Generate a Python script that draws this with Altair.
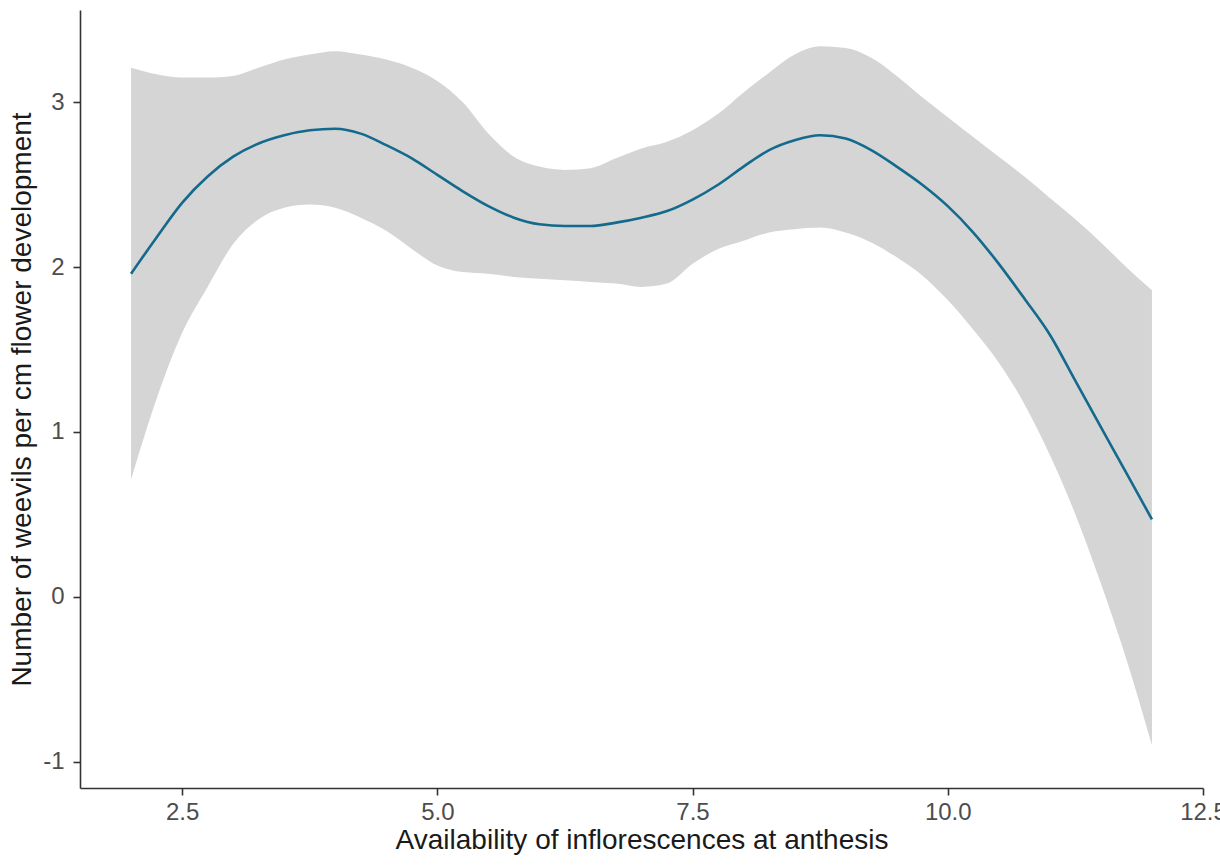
import altair as alt
import pandas as pd

# Smoothed estimate of weevil density with its confidence band
x_vals = [2.0, 2.25, 2.5, 2.75, 3.0, 3.25, 3.5, 3.75, 4.0, 4.25, 4.5, 4.75,
          5.0, 5.25, 5.5, 5.75, 6.0, 6.25, 6.5, 6.75, 7.0, 7.25, 7.5, 7.75,
          8.0, 8.25, 8.5, 8.75, 9.0, 9.25, 9.5, 9.75, 10.0, 10.25, 10.5, 10.75,
          11.0, 11.25, 11.5, 11.75, 12.0]
fit = [1.96, 2.18, 2.39, 2.55, 2.67, 2.75, 2.80, 2.83, 2.84, 2.81, 2.74, 2.66,
       2.56, 2.46, 2.37, 2.30, 2.26, 2.25, 2.25, 2.27, 2.30, 2.34, 2.41, 2.50,
       2.61, 2.71, 2.77, 2.80, 2.78, 2.71, 2.61, 2.50, 2.37, 2.21, 2.02, 1.81,
       1.59, 1.31, 1.03, 0.75, 0.47]
upper = [3.21, 3.17, 3.15, 3.15, 3.16, 3.21, 3.26, 3.29, 3.31, 3.29, 3.26, 3.21,
         3.13, 3.00, 2.81, 2.67, 2.61, 2.59, 2.60, 2.66, 2.72, 2.76, 2.83, 2.93,
         3.06, 3.18, 3.29, 3.34, 3.33, 3.27, 3.16, 3.03, 2.91, 2.79, 2.67, 2.55,
         2.42, 2.29, 2.15, 2.00, 1.86]
lower = [0.71, 1.20, 1.60, 1.88, 2.14, 2.29, 2.36, 2.38, 2.36, 2.30, 2.22, 2.11,
         2.01, 1.97, 1.96, 1.94, 1.93, 1.92, 1.91, 1.90, 1.88, 1.90, 2.02, 2.11,
         2.16, 2.21, 2.23, 2.24, 2.21, 2.15, 2.06, 1.95, 1.80, 1.62, 1.42, 1.17,
         0.86, 0.50, 0.08, -0.38, -0.90]

x_ticks = [2.5, 5.0, 7.5, 10.0, 12.5]
y_ticks = [-1, 0, 1, 2, 3]

df = pd.DataFrame({"x": x_vals, "fit": fit, "lo": lower, "hi": upper})

FONT = "Liberation Sans"

x_enc = alt.X(
    "x:Q",
    scale=alt.Scale(domain=[1.5, 12.5], nice=False, zero=False),
    axis=alt.Axis(
        title="Availability of inflorescences at anthesis",
        values=x_ticks,
        format=".1f",
        labelFlush=False,
        labelOverlap=False,
    ),
)
y_scale = alt.Scale(domain=[-1.16, 3.56], nice=False, zero=False)

band = alt.Chart(df).mark_area(
    color="#d5d5d5", opacity=1, interpolate="monotone"
).encode(
    x=x_enc,
    y=alt.Y(
        "lo:Q",
        scale=y_scale,
        axis=alt.Axis(
            title="Number of weevils per cm flower development",
            values=y_ticks,
            labelFlush=False,
            labelExpr="datum.value < 0 ? '-' + abs(datum.value) : '' + datum.value",
        ),
    ),
    y2="hi:Q",
)

line = alt.Chart(df).mark_line(
    color="#136a8c", strokeWidth=2.6, interpolate="monotone"
).encode(
    x=x_enc,
    y=alt.Y("fit:Q", scale=y_scale),
)

chart = (
    alt.layer(band, line)
    .properties(
        width=1123,
        height=778,
        autosize=alt.AutoSizeParams(type="none"),
        padding={"left": 80, "top": 10, "right": 17, "bottom": 77},
        background="white",
    )
    .configure_view(stroke=None)
    .configure_axis(
        grid=False,
        domainColor="#333333",
        domainWidth=1.6,
        tickColor="#333333",
        tickWidth=1.6,
        tickSize=7,
        labelColor="#4d4d4d",
        labelFont=FONT,
        labelFontSize=24,
        titleFont=FONT,
        titleFontSize=28,
        titleFontWeight="normal",
        titleColor="#1a1a1a",
    )
    .configure_axisX(labelPadding=5, titlePadding=2)
    .configure_axisY(labelPadding=9, titlePadding=6)
)

chart.save("out.html", embed_options={"renderer": "svg", "actions": False})
